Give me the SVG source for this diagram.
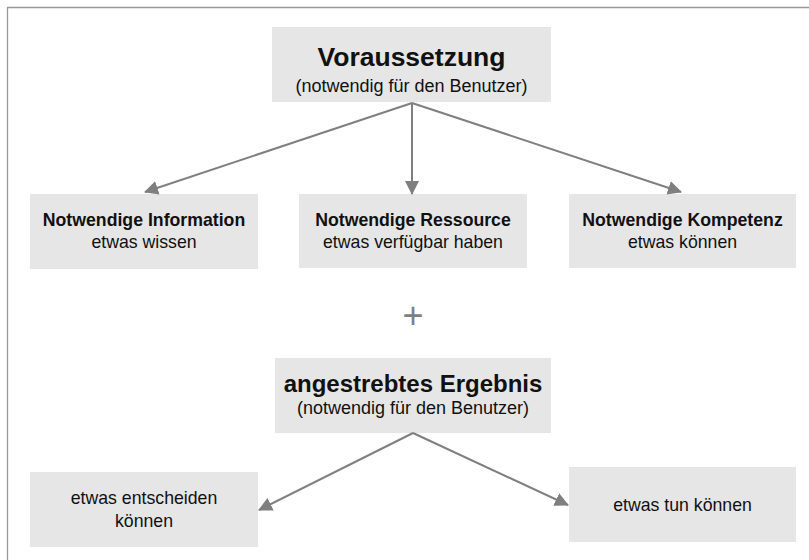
<svg xmlns="http://www.w3.org/2000/svg" width="809" height="560" viewBox="0 0 809 560">
<style>
.box{fill:#e6e6e6}
text{font-family:"Liberation Sans",Arial,sans-serif;fill:#111;text-anchor:middle}
.t1{font-size:26.5px;font-weight:bold}
.t2{font-size:24px;font-weight:bold}
.b{font-size:17.7px;font-weight:bold}
.r{font-size:17.7px}
.s{font-size:18px}
.conn line{stroke:#7f7f7f;stroke-width:2}
</style>
<defs>
<marker id="ah" viewBox="0 0 14 14" refX="13" refY="7" markerWidth="14" markerHeight="14" markerUnits="userSpaceOnUse" orient="auto">
<path d="M0,0 L14,7 L0,14 Z" fill="#7f7f7f"/>
</marker>
</defs>
<rect width="809" height="560" fill="#fff"/>
<path d="M7.5,560 V7.5 H809" fill="none" stroke="#999" stroke-width="1.3"/>
<g id="voraussetzung">
<rect class="box" x="272" y="27" width="279" height="75"/>
<text class="t1" x="411.5" y="66">Voraussetzung</text>
<text class="s" x="411.5" y="92">(notwendig für den Benutzer)</text>
</g>
<g id="information">
<rect class="box" x="30" y="194" width="228" height="75"/>
<text class="b" x="144" y="226">Notwendige Information</text>
<text class="r" x="144" y="248">etwas wissen</text>
</g>
<g id="ressource">
<rect class="box" x="299" y="194" width="228" height="74"/>
<text class="b" x="413" y="226">Notwendige Ressource</text>
<text class="r" x="413" y="248">etwas verfügbar haben</text>
</g>
<g id="kompetenz">
<rect class="box" x="569" y="194" width="227" height="74"/>
<text class="b" x="682.5" y="226">Notwendige Kompetenz</text>
<text class="r" x="682.5" y="248">etwas können</text>
</g>
<g id="plus">
<text x="413" y="328" style="font-size:36px;fill:#808080">+</text>
</g>
<g id="ergebnis">
<rect class="box" x="275" y="358" width="276" height="75"/>
<text class="t2" x="413" y="392">angestrebtes Ergebnis</text>
<text class="s" x="413" y="414">(notwendig für den Benutzer)</text>
</g>
<g id="entscheiden">
<rect class="box" x="30" y="472" width="228" height="75"/>
<text class="r" x="144" y="504">etwas entscheiden</text>
<text class="r" x="144" y="527">können</text>
</g>
<g id="tun">
<rect class="box" x="569" y="467" width="227" height="75"/>
<text class="r" x="682.5" y="511">etwas tun können</text>
</g>
<g class="conn">
<line x1="412" y1="103" x2="145" y2="192" marker-end="url(#ah)"/>
<line x1="412" y1="103" x2="412" y2="194" marker-end="url(#ah)"/>
<line x1="412" y1="103" x2="681" y2="192" marker-end="url(#ah)"/>
<line x1="413" y1="433" x2="259" y2="510" marker-end="url(#ah)"/>
<line x1="413" y1="433" x2="568" y2="505" marker-end="url(#ah)"/>
</g>
</svg>
